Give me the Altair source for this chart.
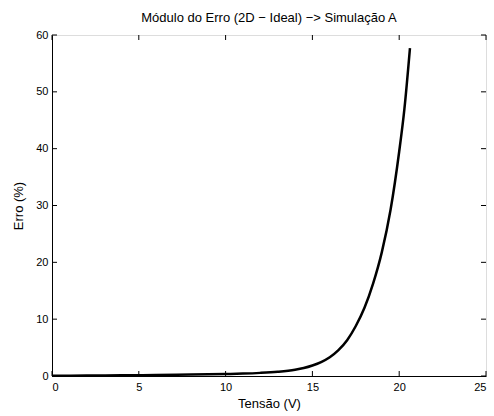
import altair as alt
import pandas as pd

# Voltage (V) and error magnitude (%) along the curve
tensao = [0, 2, 4, 6, 8, 10, 11, 12, 13, 14, 14.5, 15, 15.5, 16, 16.5, 17,
          17.5, 18, 18.5, 19, 19.5, 20, 20.3, 20.62]
erro = [0.05, 0.08, 0.12, 0.17, 0.25, 0.34, 0.42, 0.55, 0.75, 1.1, 1.4, 1.85,
        2.45, 3.3, 4.55, 6.3, 8.8, 12.0, 16.3, 21.8, 29.2, 39.5, 47.0, 57.7]

x_ticks = [0, 5, 10, 15, 20, 25]
y_ticks = [0, 10, 20, 30, 40, 50, 60]

W, H = 434, 341
TICK = 5
FONT = "Liberation Sans"

df = pd.DataFrame({"x": tensao, "y": erro})
xt = pd.DataFrame({"t": x_ticks})
yt = pd.DataFrame({"t": y_ticks})

xscale = alt.Scale(domain=[0, 25], nice=False, zero=False)
yscale = alt.Scale(domain=[0, 60], nice=False, zero=False)

curve = alt.Chart(df).mark_line(color="black", strokeWidth=2.5,
                                interpolate="monotone").encode(
    x=alt.X("x:Q", scale=xscale, title="Tensão (V)",
            axis=alt.Axis(values=x_ticks, ticks=False, grid=False,
                          labelPadding=5, titlePadding=5, domainColor="black",
                          labelColor="black", titleColor="black",
                          labelFontSize=11, titleFontSize=13,
                          labelFont=FONT, titleFont=FONT,
                          titleFontWeight="normal")),
    y=alt.Y("y:Q", scale=yscale, title="Erro (%)",
            axis=alt.Axis(values=y_ticks, ticks=False, grid=False,
                          labelPadding=4, titlePadding=10, domainColor="black",
                          labelColor="black", titleColor="black",
                          labelFontSize=11, titleFontSize=13,
                          labelFont=FONT, titleFont=FONT,
                          titleFontWeight="normal")),
)

# inward tick marks on all four sides of the frame
bottom_ticks = alt.Chart(xt).mark_rule(color="black", strokeWidth=1).encode(
    x=alt.X("t:Q", scale=xscale), y=alt.value(H), y2=alt.value(H - TICK))
top_ticks = alt.Chart(xt).mark_rule(color="black", strokeWidth=1).encode(
    x=alt.X("t:Q", scale=xscale), y=alt.value(0), y2=alt.value(TICK))
left_ticks = alt.Chart(yt).mark_rule(color="black", strokeWidth=1).encode(
    y=alt.Y("t:Q", scale=yscale), x=alt.value(0), x2=alt.value(TICK))
right_ticks = alt.Chart(yt).mark_rule(color="black", strokeWidth=1).encode(
    y=alt.Y("t:Q", scale=yscale), x=alt.value(W), x2=alt.value(W - TICK))

chart = alt.layer(curve, bottom_ticks, top_ticks, left_ticks, right_ticks).properties(
    width=W, height=H,
    title=alt.TitleParams("Módulo do Erro (2D − Ideal) −> Simulação A",
                          font=FONT, fontSize=13, fontWeight="normal",
                          color="black", anchor="middle", offset=4),
    autosize=alt.AutoSizeParams(type="none"),
    padding={"left": 52, "top": 35, "right": 8, "bottom": 40},
).configure_view(stroke="black", strokeWidth=1).configure(background="white")

chart.save("out.html", embed_options={"renderer": "svg", "actions": False})
